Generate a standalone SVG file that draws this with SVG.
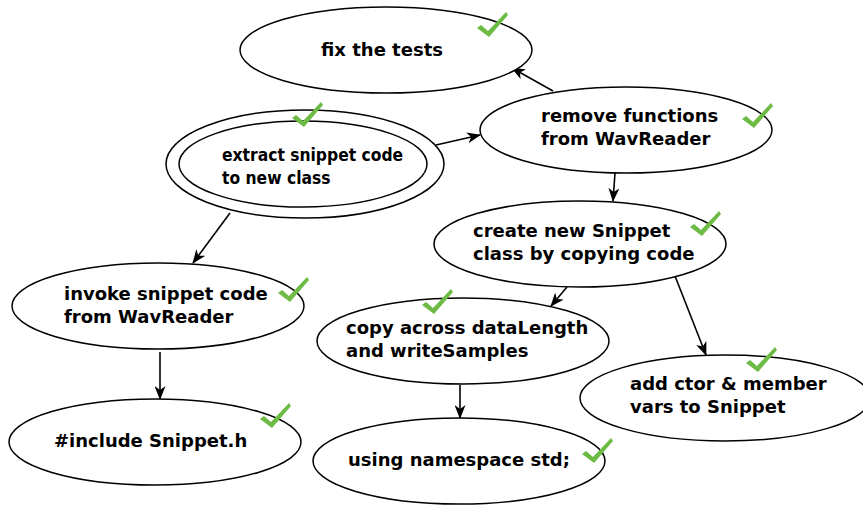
<svg xmlns="http://www.w3.org/2000/svg" width="863" height="509" viewBox="0 0 863 509">
<style>
.n{fill:#fff;stroke:#000;stroke-width:1.5}
.t{font-family:"DejaVu Sans",sans-serif;font-weight:bold;font-size:18px;fill:#000}
.tc{font-family:"DejaVu Sans Condensed","DejaVu Sans",sans-serif;font-weight:bold;font-size:17.3px;fill:#000}
.e{stroke:#000;stroke-width:1.6;fill:none;marker-end:url(#a)}
.ck{fill:#6dbb45}
</style>
<defs>
<marker id="a" viewBox="0 0 14 11" refX="13" refY="5.5" markerWidth="14" markerHeight="11" markerUnits="userSpaceOnUse" orient="auto">
<path d="M0,0 L14,5.5 L0,11 L4,5.5 Z" fill="#000"/>
</marker>
<path id="c" d="M0,16 L4,13 L11,19 L29,0 L31,3 L12,25 Z"/>
</defs>
<g id="edges">
<line class="e" x1="553" y1="91" x2="512" y2="68"/>
<line class="e" x1="436" y1="145" x2="480" y2="135"/>
<line class="e" x1="230" y1="213" x2="193" y2="263"/>
<line class="e" x1="615" y1="173" x2="613" y2="201"/>
<line class="e" x1="567" y1="287" x2="551" y2="306"/>
<line class="e" x1="675" y1="276" x2="706" y2="355"/>
<line class="e" x1="160" y1="352" x2="160" y2="399"/>
<line class="e" x1="460" y1="385" x2="460" y2="418"/>
</g>
<g id="fix">
<ellipse class="n" cx="386" cy="50" rx="146" ry="43"/>
<text class="t" x="321" y="56">fix the tests</text>
<use href="#c" class="ck" x="477" y="12"/>
</g>
<g id="extract">
<ellipse class="n" cx="305" cy="164" rx="139" ry="54"/>
<ellipse class="n" cx="303" cy="164" rx="124" ry="43"/>
<text class="tc" x="222" y="161">extract snippet code</text>
<text class="tc" x="222" y="184">to new class</text>
<use href="#c" class="ck" x="292" y="102"/>
</g>
<g id="remove">
<ellipse class="n" cx="626" cy="130" rx="146" ry="43"/>
<text class="t" x="541" y="122">remove functions</text>
<text class="t" x="541" y="145">from WavReader</text>
<use href="#c" class="ck" x="742" y="103"/>
</g>
<g id="create">
<ellipse class="n" cx="580" cy="244" rx="146" ry="43"/>
<text class="t" x="473" y="237">create new Snippet</text>
<text class="t" x="473" y="260">class by copying code</text>
<use href="#c" class="ck" x="690" y="211"/>
</g>
<g id="invoke">
<ellipse class="n" cx="158" cy="306" rx="146" ry="43"/>
<text class="t" x="64" y="300">invoke snippet code</text>
<text class="t" x="64" y="323">from WavReader</text>
<use href="#c" class="ck" x="278" y="277"/>
</g>
<g id="copy">
<ellipse class="n" cx="463" cy="341" rx="146" ry="43"/>
<text class="t" x="346" y="334">copy across dataLength</text>
<text class="t" x="346" y="357">and writeSamples</text>
<use href="#c" class="ck" x="422" y="289"/>
</g>
<g id="addctor">
<ellipse class="n" cx="725" cy="398" rx="145" ry="43"/>
<text class="t" x="630" y="390">add ctor &amp; member</text>
<text class="t" x="630" y="413">vars to Snippet</text>
<use href="#c" class="ck" x="746" y="347"/>
</g>
<g id="include">
<ellipse class="n" cx="155" cy="442" rx="146" ry="43"/>
<text class="t" x="54" y="447">#include Snippet.h</text>
<use href="#c" class="ck" x="260" y="403"/>
</g>
<g id="using">
<ellipse class="n" cx="459" cy="461" rx="146" ry="43"/>
<text class="t" x="348" y="466">using namespace std;</text>
<use href="#c" class="ck" x="582" y="438"/>
</g>
</svg>
